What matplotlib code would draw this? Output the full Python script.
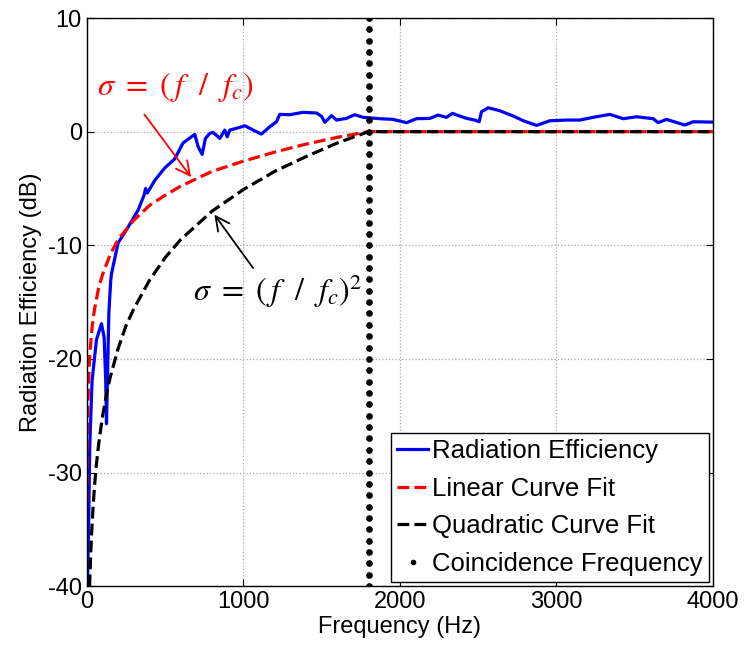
import matplotlib.pyplot as plt

plt.rcParams['font.family'] = ['Liberation Sans', 'DejaVu Sans']
plt.rcParams['mathtext.fontset'] = 'stix'
plt.rcParams['axes.unicode_minus'] = False

freq_meas = [4, 6, 13, 19, 34, 62, 94, 111, 121, 126, 132, 141, 153, 158, 200, 264, 328,
             366, 376, 387, 434, 498, 562, 615, 669, 690, 711, 722, 737, 758, 786, 807,
             850, 882, 897, 914, 956, 1010, 1063, 1116, 1169, 1212, 1233, 1297, 1382,
             1468, 1500, 1521, 1564, 1596, 1659, 1712, 1766, 1872, 1957, 2043, 2107,
             2192, 2245, 2298, 2337, 2383, 2426, 2479, 2507, 2522, 2565, 2639, 2725,
             2789, 2874, 2958, 3065, 3150, 3235, 3342, 3427, 3512, 3619, 3651, 3704,
             3821, 3874, 4000]
eff_meas = [-40.0, -39.0, -33.6, -27.7, -21.9, -18.3, -16.9, -18.1, -21.9, -25.7, -21.9,
            -16.0, -13.1, -12.5, -9.8, -8.4, -6.9, -5.6, -5.0, -5.4, -4.3, -3.2, -2.4,
            -1.0, -0.45, -0.24, -1.3, -1.6, -2.0, -0.6, -0.15, -0.06, -0.59, 0.14, -0.45,
            0.14, 0.29, 0.52, 0.14, -0.21, 0.43, 0.87, 1.52, 1.49, 1.7, 1.64, 1.35, 0.82,
            1.41, 1.02, 1.17, 1.49, 1.26, 1.14, 1.08, 0.79, 1.14, 1.17, 1.46, 1.26, 1.61,
            1.37, 1.17, 1.02, 0.87, 1.75, 2.1, 1.84, 1.37, 0.96, 0.55, 0.96, 1.02, 1.02,
            1.26, 1.52, 1.14, 1.31, 1.14, 0.79, 1.08, 0.58, 0.87, 0.84]

# curve fits
freq_lin = [1, 2, 3, 5, 7, 10, 15, 20, 30, 40, 50, 75, 100, 150, 200, 300, 400, 500, 600,
            800, 1000, 1200, 1400, 1600, 1800, 4000]
lin_fit = [-32.6, -29.5, -27.8, -25.6, -24.1, -22.6, -20.8, -19.5, -17.8, -16.5, -15.6,
           -13.8, -12.6, -10.8, -9.5, -7.8, -6.5, -5.6, -4.8, -3.5, -2.6, -1.8, -1.1,
           -0.5, 0.0, 0.0]
freq_quad = [18, 20, 25, 30, 35, 40, 50, 60, 75, 100, 125, 150, 200, 250, 300, 400, 500,
             600, 800, 1000, 1200, 1400, 1600, 1800, 4000]
quad_fit = [-40.0, -39.1, -37.2, -35.6, -34.3, -33.1, -31.1, -29.5, -27.6, -25.1, -23.2,
            -21.6, -19.1, -17.1, -15.6, -13.1, -11.1, -9.5, -7.0, -5.1, -3.5, -2.2, -1.0,
            0.0, 0.0]

fc = 1800
coin_db = list(range(-40, 11))

fig, ax = plt.subplots(figsize=(7.48, 6.55), dpi=100)
fig.subplots_adjust(left=0.116, right=0.953, bottom=0.105, top=0.9725)

ax.plot(freq_meas, eff_meas, color='blue', lw=2.3, label='Radiation Efficiency')
ax.plot(freq_lin, lin_fit, color='red', ls='--', lw=2.3, label='Linear Curve Fit')
ax.plot(freq_quad, quad_fit, color='black', ls='--', lw=2.3, label='Quadratic Curve Fit')
ax.plot([fc] * len(coin_db), coin_db, ls='none', marker='o', ms=3.8, color='black',
        label='Coincidence Frequency')

ax.set_xlim(0, 4000)
ax.set_ylim(-40, 10)
ax.set_xticks([0, 1000, 2000, 3000, 4000])
ax.set_yticks([-40, -30, -20, -10, 0, 10])
ax.grid(True, ls=':', color='#aaaaaa', lw=0.9)
ax.tick_params(direction='in', top=True, right=True, labelsize=17, length=5)
for s in ax.spines.values():
    s.set_linewidth(1.0)
ax.set_xlabel('Frequency (Hz)', fontsize=17, labelpad=2)
ax.set_ylabel('Radiation Efficiency (dB)', fontsize=17, labelpad=4)

# annotations
ax.annotate('', xy=(677, -4.2), xytext=(358, 1.7),
            arrowprops=dict(arrowstyle='->', color='red', lw=1.3, mutation_scale=25))
ax.text(65, 3.9, r'$\sigma\ =\ (\,f\ \ /\ \ f_c)$', color='red', fontsize=23, va='center')
ax.annotate('', xy=(805, -7.1), xytext=(1073, -12.2),
            arrowprops=dict(arrowstyle='->', color='black', lw=1.3, mutation_scale=25))
ax.text(680, -14.0, r'$\sigma\ =\ (\,f\ \ /\ \ f_c)^2$', color='black', fontsize=23,
        va='center')

leg = ax.legend(loc='lower right', fontsize=18.5, handlelength=1.2, handletextpad=0.15,
                labelspacing=0.53, borderaxespad=0.15, borderpad=0.25, fancybox=False,
                framealpha=1, markerscale=0.8)
leg.get_frame().set_edgecolor('black')
leg.get_frame().set_linewidth(1.0)

fig.savefig('out.png', dpi=100)
